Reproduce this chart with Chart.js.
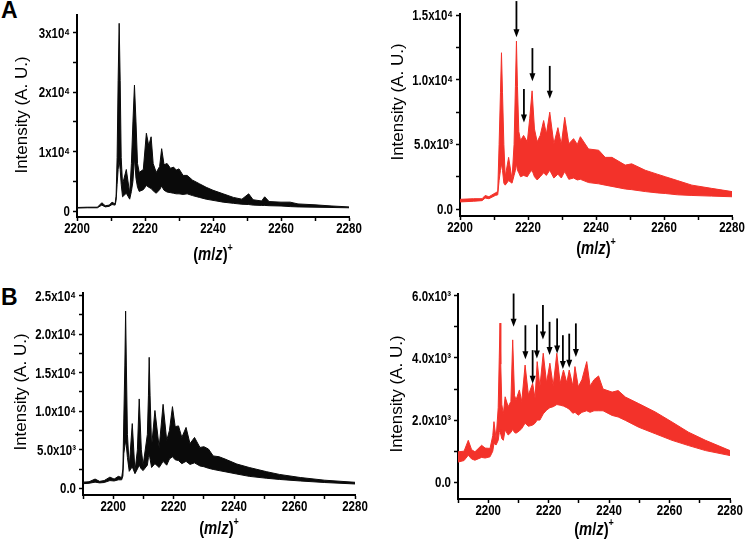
<!DOCTYPE html>
<html>
<head>
<meta charset="utf-8">
<script src="https://cdn.jsdelivr.net/npm/chart.js@4.4.1/dist/chart.umd.min.js"></script>
<style>
  body { margin: 0; background: #fff; width: 745px; height: 544px; overflow: hidden; position: relative; }
  canvas { position: absolute; }
  .tag { position: absolute; font: bold 23px 'Liberation Sans', Arial, sans-serif; line-height: 23px; color: #000; }
</style>
</head>
<body>
<div class="tag" style="left:1px;top:-1px">A</div>
<div class="tag" style="left:1px;top:286px">B</div>
<canvas id="cA" width="372" height="272" style="left:0;top:0"></canvas>
<canvas id="cB" width="373" height="272" style="left:372px;top:0"></canvas>
<canvas id="cC" width="372" height="272" style="left:0;top:272px"></canvas>
<canvas id="cD" width="373" height="272" style="left:372px;top:272px"></canvas>
<script>
// panel A (top left, black)
const mzA  = [2200,2203,2206,2207.3,2208.3,2209.5,2210.3,2211.2,2211.5,2211.8,2212.1,2212.4,2212.7,2213.0,2213.4,2214.5,2215.5,2216.0,2216.45,2216.9,2217.35,2217.8,2218.3,2219.5,2220.4,2221.1,2221.8,2222.4,2223.3,2224.3,2224.9,2225.6,2226.5,2227.5,2228.4,2229.2,2230.0,2231.2,2232.4,2234,2236,2238,2240,2243,2246,2248.5,2250.5,2251.8,2254.3,2255.2,2256.5,2260,2262.7,2265,2270,2275,2280];
const upA  = [600,650,650,1400,900,1000,1500,1200,2500,9000,22000,31600,22000,9000,4500,7000,3000,8000,15000,21200,15000,8000,6500,7000,13100,11000,12500,8000,6500,7500,10500,7800,8000,7200,7400,6900,7100,6000,6000,5200,4600,4000,3500,2900,2300,2000,2900,1900,1700,2400,1600,1500,1500,1200,1050,850,700];
const lowA = [500,550,550,1000,700,800,1100,1000,1800,4500,7000,8500,7000,4500,2400,3000,2000,3300,5000,9000,5500,4000,3300,3600,4300,4000,3800,3400,3000,3600,4200,3500,3200,3100,3000,2900,2900,2800,2900,2600,2300,2000,1800,1500,1300,1150,1100,1000,950,950,900,850,750,700,650,600,550];

// panel A' (top right, red)
const mzB  = [2200,2204,2206.5,2207.4,2208.5,2210.4,2211.1,2211.5,2211.9,2212.2,2212.5,2212.9,2213.3,2214.3,2215.3,2215.9,2216.3,2216.6,2216.9,2217.3,2217.8,2218.7,2219.8,2220.5,2221.2,2221.9,2222.7,2223.6,2224.6,2225.4,2226.4,2227.6,2228.8,2229.8,2230.8,2232,2233.4,2234.5,2235.4,2237.8,2240.8,2242.7,2244.7,2248.6,2250.5,2254.5,2258,2260.4,2264,2268.2,2274,2280];
const upB  = [750,800,800,1050,950,1250,1350,5000,9000,12100,9000,5000,2500,4000,2300,5000,9500,13000,9500,6000,5300,5700,5200,7000,9150,6200,5200,5700,6850,5800,7500,5050,6300,5000,7100,5050,5450,5000,5600,4650,4550,4000,4000,3400,3500,3000,2700,2500,2200,1850,1600,1350];
const lowB = [550,600,650,850,800,1050,1100,2200,3000,3500,3000,2000,1850,2200,2000,2600,3000,3500,3000,2800,2500,2600,2500,2800,3000,2500,2250,2500,2800,2600,3000,2400,2700,2400,2900,2300,2400,2250,2300,2050,1950,1850,1750,1550,1500,1350,1250,1200,1100,1050,1000,950];
const arrowMzB   = [2216.6, 2218.8, 2221.3, 2226.4];
const arrowTipB  = [13300, 6700, 9900, 8540];
const arrowTailB = [16100, 9300, 12460, 11080];

// panel B (bottom left, black)
const mzC  = [2190,2192,2194,2195.5,2197,2198.9,2200.3,2201.7,2202.8,2203.2,2203.5,2203.85,2204.1,2204.35,2204.7,2205.3,2206.3,2207.2,2208.0,2208.6,2209.3,2209.9,2211.3,2211.65,2211.9,2212.2,2212.7,2213.8,2215.2,2216.5,2217.7,2218.6,2219.6,2220.5,2221.6,2222.7,2224.1,2225.4,2226.9,2228.7,2230,2231.5,2233.1,2235,2237,2240.9,2245,2250.8,2255,2261.9,2270,2280];
const upC  = [800,850,1200,900,1000,1450,1200,1550,1400,2500,9000,16000,23000,16000,7000,2800,8400,2200,5000,11600,5000,3000,7000,12000,17000,12000,5400,10100,5300,10900,6200,7500,10600,8000,8100,6600,7900,5800,6600,5300,5400,5100,4200,4100,3800,3150,2700,2150,1800,1400,1050,780];
const lowC = [600,650,800,700,750,1000,950,1100,1100,1600,4500,5500,6200,5500,4000,2200,2800,1900,2500,3000,2500,2300,3000,4000,4500,3800,2700,3200,2700,3500,3000,3800,4100,3700,3600,3200,3500,3100,3300,2900,2800,2600,2450,2300,2150,1850,1550,1300,1150,950,750,560];

// panel B' (bottom right, red)
const mzD  = [2190,2192,2193.4,2194.5,2195.6,2197.8,2199,2200.6,2201.5,2201.9,2202.6,2203.3,2203.65,2203.9,2204.15,2204.5,2205.0,2205.6,2206.6,2207.5,2208.1,2208.7,2209.2,2210.3,2211.1,2212.2,2213.3,2214.7,2215.5,2216.2,2217.1,2218.2,2219.3,2220.4,2221.5,2222.7,2223.8,2224.9,2226,2226.8,2228,2228.7,2229.8,2231,2232.6,2233.7,2235,2236.5,2238,2241,2243,2245.4,2249.8,2255.3,2260.8,2266.3,2271.9,2280];
const upD  = [980,1000,1350,1050,980,1190,1100,1090,1500,1950,1400,2400,4000,5120,3800,2500,2200,2750,2430,2600,4580,2800,2650,2970,2600,3770,2810,3180,2700,3880,3070,4150,3200,3830,3100,4150,3180,3610,3200,3610,3100,3720,3070,3300,3880,3100,3300,3420,3000,2900,2950,2740,2530,2260,1940,1610,1350,1020];
const lowD = [650,700,870,750,710,800,780,820,1000,1250,1200,1350,1600,1700,1550,1400,1350,1680,1520,1600,1700,1600,1580,1650,1730,1900,1800,1840,1900,2000,2000,2200,2320,2400,2430,2500,2480,2450,2400,2350,2220,2250,2160,2250,2300,2250,2300,2300,2300,2150,2100,1990,1770,1560,1350,1180,1020,860];
const arrowMzD   = [2208.4, 2212.3, 2214.7, 2216.1, 2218.1, 2220.3, 2222.8, 2224.7, 2226.8, 2229];
const arrowTipD  = [5000, 3960, 3170, 3980, 4590, 4090, 4140, 3640, 3680, 4030];
const arrowTailD = [6070, 5050, 4250, 5070, 5700, 5160, 5270, 4730, 4780, 5110];

// ticks
const xMajor    = [2200, 2220, 2240, 2260, 2280];
const xMinorTop = [2210, 2230, 2250, 2270];
const xMinorBot = [2190, 2210, 2230, 2250, 2270];
const yMajorA = [0, 10000, 20000, 30000];
const yLabelA = ['0', '1x10⁴', '2x10⁴', '3x10⁴'];
const yMinorA = [5000, 15000, 25000];
const yMajorB = [0, 5000, 10000, 15000];
const yLabelB = ['0.0', '5.0x10³', '1.0x10⁴', '1.5x10⁴'];
const yMinorB = [2500, 7500, 12500];
const yMajorC = [0, 5000, 10000, 15000, 20000, 25000];
const yLabelC = ['0.0', '5.0x10³', '1.0x10⁴', '1.5x10⁴', '2.0x10⁴', '2.5x10⁴'];
const yMinorC = [2500, 7500, 12500, 17500, 22500];
const yMajorD = [0, 2000, 4000, 6000];
const yLabelD = ['0.0', '2.0x10³', '4.0x10³', '6.0x10³'];
const yMinorD = [1000, 3000, 5000];

const SANS = "'Liberation Sans', Arial, sans-serif";
const SQ = 0.82; // the original figure is squeezed horizontally
const BLACK = '#0a0a0a';
const RED = 'rgb(243,50,42)';

// squeezed text helper
function squeezed(ctx, text, x, y, align) {
  ctx.save();
  ctx.translate(x, y);
  ctx.scale(SQ, 1);
  ctx.textAlign = align;
  ctx.fillText(text, 0, 0);
  ctx.restore();
}

// arrows, tick labels and axis titles
const decoPlugin = {
  id: 'deco',
  afterDatasetsDraw(chart, args, o) {
    const ctx = chart.ctx, xs = chart.scales.x, ys = chart.scales.y;
    ctx.save();
    ctx.strokeStyle = '#000';
    ctx.fillStyle = '#000';
    ctx.lineWidth = 1.8;
    (o.arrowMz || []).forEach(function (mz, i) {
      const px = xs.getPixelForValue(mz);
      const tip = ys.getPixelForValue(o.arrowTip[i]);
      const tail = ys.getPixelForValue(o.arrowTail[i]);
      ctx.beginPath();
      ctx.moveTo(px, tail);
      ctx.lineTo(px, tip - 6);
      ctx.stroke();
      ctx.beginPath();
      ctx.moveTo(px - 3, tip - 8);
      ctx.lineTo(px + 3, tip - 8);
      ctx.lineTo(px, tip);
      ctx.closePath();
      ctx.fill();
    });
    ctx.restore();
  },
  afterDraw(chart, args, o) {
    const ctx = chart.ctx, area = chart.chartArea, xs = chart.scales.x, ys = chart.scales.y;
    ctx.save();
    ctx.fillStyle = '#000';
    ctx.textBaseline = 'alphabetic';
    ctx.font = 'bold 14px ' + SANS;
    xMajor.forEach(function (v) {
      squeezed(ctx, String(v), xs.getPixelForValue(v), area.bottom + 16, 'center');
    });
    o.yMajor.forEach(function (v, i) {
      squeezed(ctx, o.yLabel[i], area.left - 7, ys.getPixelForValue(v) + 5, 'right');
    });
    ctx.restore();

    // y title
    ctx.save();
    ctx.fillStyle = '#000';
    ctx.translate(o.yTitleX, o.yTitleY);
    ctx.rotate(-Math.PI / 2);
    ctx.scale(1, 0.92);
    ctx.font = '17px ' + SANS;
    ctx.textAlign = 'center';
    ctx.textBaseline = 'middle';
    ctx.fillText('Intensity (A. U.)', 0, 0);
    ctx.restore();

    // x title: (m/z)+
    ctx.save();
    ctx.fillStyle = '#000';
    ctx.textBaseline = 'alphabetic';
    ctx.textAlign = 'left';
    const parts = [
      { t: '(', f: 'bold 18px ' + SANS, dy: 0 },
      { t: 'm', f: 'italic bold 18px ' + SANS, dy: 0 },
      { t: '/', f: 'bold 18px ' + SANS, dy: 0 },
      { t: 'z', f: 'italic bold 18px ' + SANS, dy: 0 },
      { t: ')', f: 'bold 18px ' + SANS, dy: 0 },
      { t: '+', f: 'bold 11px ' + SANS, dy: -9 }
    ];
    let w = 0;
    parts.forEach(function (p) { ctx.font = p.f; p.w = ctx.measureText(p.t).width; w += p.w; });
    ctx.translate((area.left + area.right) / 2, area.bottom + o.xTitleOff + 6);
    ctx.scale(SQ, 1);
    let x = -w / 2;
    parts.forEach(function (p) { ctx.font = p.f; ctx.fillText(p.t, x, p.dy); x += p.w; });
    ctx.restore();
  }
};

function pts(mz, vals) {
  return mz.map(function (m, i) { return { x: m, y: vals[i] }; });
}

function makePanel(id, p) {
  p.deco.yMajor = p.yMajor;
  p.deco.yLabel = p.yLabel;
  return new Chart(document.getElementById(id), {
    type: 'line',
    data: {
      datasets: [
        { data: pts(p.mz, p.low), borderColor: p.color, borderWidth: 1, pointRadius: 0, fill: false, tension: 0 },
        { data: pts(p.mz, p.up), borderColor: p.color, backgroundColor: p.color, borderWidth: 1, pointRadius: 0, fill: '-1', tension: 0 }
      ]
    },
    options: {
      responsive: false,
      animation: false,
      layout: { padding: p.pad },
      plugins: {
        legend: { display: false },
        tooltip: { enabled: false },
        deco: p.deco
      },
      scales: {
        x: {
          type: 'linear',
          min: p.xMin, max: 2280,
          afterBuildTicks: function (s) {
            s.ticks = xMajor.concat(p.xMinor).sort(function (a, b) { return a - b; }).map(function (v) { return { value: v }; });
          },
          afterFit: function (s) { s.height = p.xH; },
          ticks: { display: false },
          grid: { drawOnChartArea: false, drawTicks: true, tickLength: 4, tickWidth: 1.5, tickColor: '#000' },
          border: { display: true, color: '#000', width: 2 }
        },
        y: {
          min: p.yMin, max: p.yMax,
          afterBuildTicks: function (s) {
            s.ticks = p.yMajor.concat(p.yMinor).sort(function (a, b) { return a - b; }).map(function (v) { return { value: v }; });
          },
          afterFit: function (s) { s.width = p.yW; },
          ticks: { display: false },
          grid: { drawOnChartArea: false, drawTicks: true, tickLength: 4, tickWidth: 1.5, tickColor: '#000' },
          border: { display: true, color: '#000', width: 2 }
        }
      }
    },
    plugins: [decoPlugin]
  });
}

makePanel('cA', {
  mz: mzA, up: upA, low: lowA, color: BLACK,
  xMin: 2200, xMinor: xMinorTop, yMin: -1000, yMax: 33000,
  yMajor: yMajorA, yLabel: yLabelA, yMinor: yMinorA,
  pad: { top: 15, right: 23, left: 0, bottom: 0 }, yW: 77, xH: 55,
  deco: { yTitleX: 23, yTitleY: 115, xTitleOff: 37 }
});
makePanel('cB', {
  mz: mzB, up: upB, low: lowB, color: RED,
  xMin: 2200, xMinor: xMinorTop, yMin: -540, yMax: 15100,
  yMajor: yMajorB, yLabel: yLabelB, yMinor: yMinorB,
  pad: { top: 14, right: 13, left: 0, bottom: 0 }, yW: 88, xH: 56,
  deco: { yTitleX: 27, yTitleY: 102, xTitleOff: 32, arrowMz: arrowMzB, arrowTip: arrowTipB, arrowTail: arrowTailB }
});
makePanel('cC', {
  mz: mzC, up: upC, low: lowC, color: BLACK,
  xMin: 2190, xMinor: xMinorBot, yMin: -870, yMax: 25350,
  yMajor: yMajorC, yLabel: yLabelC, yMinor: yMinorC,
  pad: { top: 21, right: 17, left: 0, bottom: 0 }, yW: 83, xH: 49,
  deco: { yTitleX: 22, yTitleY: 120, xTitleOff: 33 }
});
makePanel('cD', {
  mz: mzD, up: upD, low: lowD, color: RED,
  xMin: 2190, xMinor: xMinorBot, yMin: -537, yMax: 6055,
  yMajor: yMajorD, yLabel: yLabelD, yMinor: yMinorD,
  pad: { top: 22, right: 15, left: 0, bottom: 0 }, yW: 86, xH: 45,
  deco: { yTitleX: 26, yTitleY: 122, xTitleOff: 30, arrowMz: arrowMzD, arrowTip: arrowTipD, arrowTail: arrowTailD }
});
</script>
</body>
</html>
